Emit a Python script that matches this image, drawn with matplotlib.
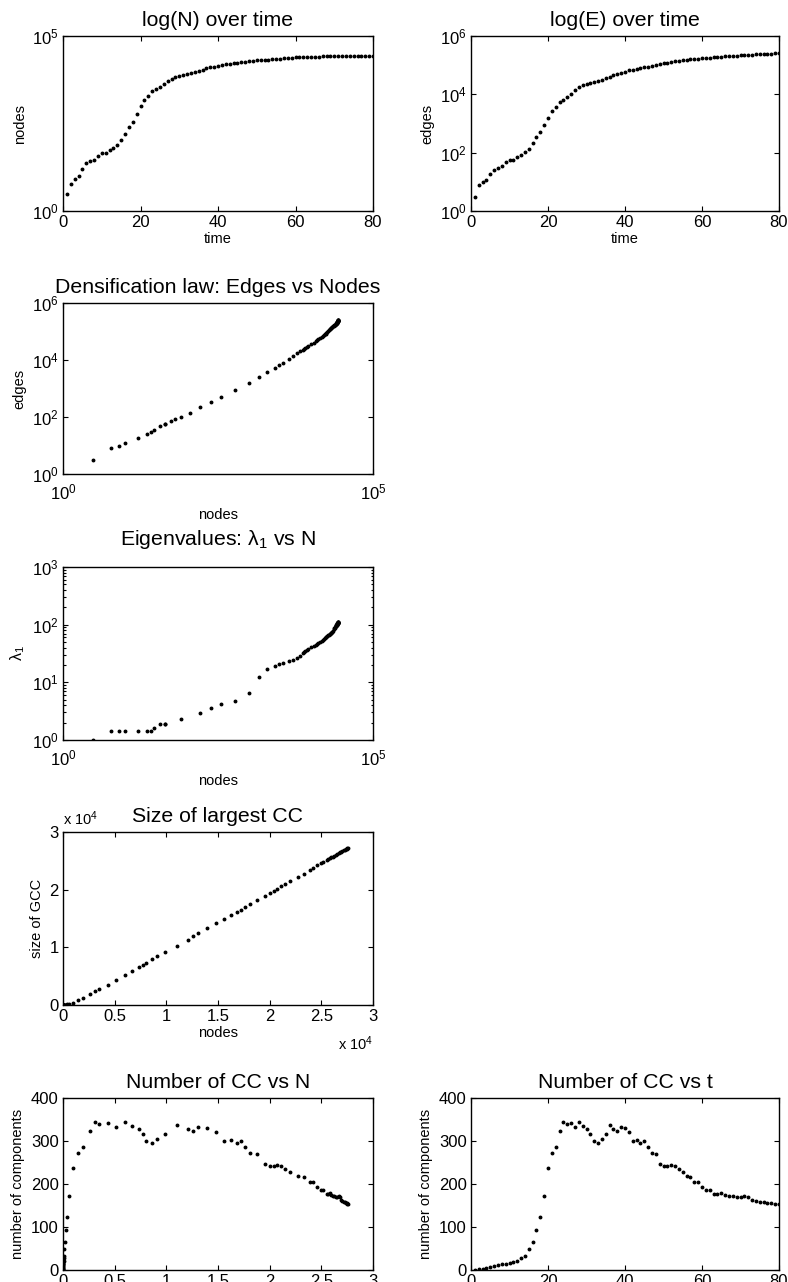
import numpy as np
import matplotlib
matplotlib.use("Agg")
import matplotlib.pyplot as plt
from matplotlib.ticker import FuncFormatter, NullLocator, LogLocator, FixedLocator

plt.rcParams['font.family'] = ['Liberation Sans', 'DejaVu Sans']
plt.rcParams['mathtext.fontset'] = 'custom'
plt.rcParams['mathtext.rm'] = 'Liberation Sans'
plt.rcParams['mathtext.it'] = 'Liberation Sans'
plt.rcParams['mathtext.default'] = 'regular'

NAN = float('nan')

# ---------------- data (one value per time step t = 1..80) ----------------
time = list(range(1, 81))

nodes = [3, 6, 8, 10, 16, 23, 26, 29, 37, 44,
         45, 56, 63, 79, 110, 163, 245, 354, 590, 1000,
         1460, 1980, 2630, 3100, 3520, 4360, 5170, 5980, 6660, 7370,
         7730, 8020, 8570, 9080, 9830, 11000, 12060, 12600, 13100, 13900,
         14800, 15600, 16300, 16800, 17200, 17600, 18100, 18800, 19500, 20000,
         20400, 20700, 21100, 21500, 22000, 22700, 23300, 23900, 24200, 24600,
         25000, 25200, 25500, 25650, 25800, 25950, 26100, 26250, 26400, 26550,
         26680, 26800, 26920, 27040, 27150, 27250, 27350, 27440, 27520, 27600]

edges = [3, 8, 10, 12, 18, 26, 30, 35, 48, 55,
         56, 71, 85, 103, 137, 220, 336, 500, 915, 1590,
         2630, 3800, 5300, 6600, 7900, 10500, 13700, 17400, 20900, 23300,
         24500, 26500, 28700, 31000, 35500, 40400, 45700, 50000, 55400, 60000,
         66000, 71000, 76000, 81000, 85000, 90000, 96000, 103000, 110000, 118000,
         123000, 128000, 134000, 140000, 146000, 152000, 158000, 163000, 168000, 173000,
         178000, 183000, 188000, 193000, 197000, 201000, 205000, 209000, 213000, 217000,
         221000, 225000, 229000, 233000, 237000, 241000, 245000, 249000, 253000, 258000]

# largest eigenvalue (not shown in the reference for a few early steps)
lambda1 = [1.0, 1.414, 1.414, 1.414, 1.414, 1.414, 1.414, 1.6, 1.92, 1.92,
           1.92, NAN, NAN, 2.35, NAN, 2.9, 3.6, 4.2, 4.8, 6.5,
           12.3, 16.9, 19.3, 21.0, 21.4, 23.1, 24.6, 26.4, 28.6, 31.8,
           33.5, 34.5, 36.5, 38.5, 41.0, 43.0, 45.0, 46.5, 48.0, 50.0,
           52.5, 55.0, 57.0, 59.0, 60.0, 61.5, 63.0, 65.0, 67.0, 69.0,
           70.0, 71.0, 72.0, 73.5, 75.0, 79.0, 83.0, 87.0, 89.0, 92.0,
           94.0, 95.0, 97.0, 98.0, 99.0, 100.0, 101.0, 102.0, 103.0, 104.0,
           105.0, 106.0, 107.0, 108.0, 108.5, 109.0, 109.5, 110.0, 110.5, 111.0]

gcc = [3, 4, 5, 6, 7, 9, 10, 12, 14, 18,
       18, 22, 25, 30, 40, 55, 80, 120, 210, 420,
       800, 1200, 1850, 2400, 2800, 3550, 4400, 5150, 5850, 6600,
       7000, 7350, 7900, 8450, 9150, 10300, 11300, 11900, 12400, 13300,
       14150, 14950, 15650, 16150, 16550, 16950, 17500, 18200, 18900, 19450,
       19850, 20150, 20600, 21000, 21500, 22200, 22800, 23450, 23750, 24200,
       24600, 24800, 25100, 25300, 25450, 25600, 25750, 25900, 26050, 26200,
       26330, 26450, 26570, 26690, 26800, 26900, 27000, 27100, 27200, 27300]

ncc = [1, 2, 3, 4, 6, 10, 12, 13, 15, 17,
       19, 22, 27, 33, 48, 66, 92, 124, 172, 238,
       272, 287, 323, 345, 340, 342, 332, 345, 334, 327,
       316, 301, 296, 305, 317, 337, 328, 323, 332, 330,
       322, 299, 302, 296, 299, 285, 272, 269, 246, 241,
       241, 244, 242, 236, 228, 219, 217, 204, 204, 194,
       186, 186, 177, 177, 178, 175, 173, 171, 169, 169,
       172, 169, 163, 161, 158, 157, 155, 155, 153, 153]

# ---------------- figure ----------------
W, H = 788, 1282
fig = plt.figure(figsize=(W / 100, H / 100), dpi=100)


def make_ax(l, t, r, b):
    return fig.add_axes([l / W, 1 - b / H, (r - l) / W, (b - t) / H])


TICK_FS = 12
LAB_FS = 10.5
TITLE_FS = 15.3
MS = 3.6


def style(ax, xpad=3):
    ax.tick_params(which='both', direction='in', top=True, right=True,
                   labelsize=TICK_FS, width=0.8, colors='black')
    ax.tick_params(which='major', length=3.5, pad=3)
    ax.tick_params(axis='x', which='major', pad=xpad)
    ax.tick_params(which='minor', length=1.8)
    for s in ax.spines.values():
        s.set_linewidth(1.0)


def logfmt(v, pos):
    e = int(round(np.log10(v)))
    return r'$10^{%d}$' % e


def linfmt_scaled(v, pos):
    return '%g' % (v / 1e4)


L1, R1 = 63, 373
L2, R2 = 471, 779
TPAD = 7

# Panel 1: log(N) over time
ax = make_ax(L1, 36, R1, 211)
ax.semilogy(time, nodes, 'k.', ms=MS)
ax.set_xlim(0, 80)
ax.set_ylim(1, 1e5)
ax.xaxis.set_major_locator(FixedLocator([0, 20, 40, 60, 80]))
ax.yaxis.set_major_locator(FixedLocator([1, 1e5]))
ax.yaxis.set_minor_locator(NullLocator())
ax.yaxis.set_major_formatter(FuncFormatter(logfmt))
ax.set_title('log(N) over time', fontsize=TITLE_FS, pad=TPAD)
ax.set_xlabel('time', fontsize=LAB_FS, labelpad=1)
ax.set_ylabel('nodes', fontsize=LAB_FS)
style(ax)

# Panel 2: log(E) over time
ax = make_ax(L2, 36, R2, 211)
ax.semilogy(time, edges, 'k.', ms=MS)
ax.set_xlim(0, 80)
ax.set_ylim(1, 1e6)
ax.xaxis.set_major_locator(FixedLocator([0, 20, 40, 60, 80]))
ax.yaxis.set_major_locator(FixedLocator([1, 1e2, 1e4, 1e6]))
ax.yaxis.set_minor_locator(NullLocator())
ax.yaxis.set_major_formatter(FuncFormatter(logfmt))
ax.set_title('log(E) over time', fontsize=TITLE_FS, pad=TPAD)
ax.set_xlabel('time', fontsize=LAB_FS, labelpad=1)
ax.set_ylabel('edges', fontsize=LAB_FS)
style(ax)

# Panel 3: densification
ax = make_ax(L1, 303, R1, 474)
ax.loglog(nodes, edges, 'k.', ms=MS)
ax.set_xlim(1, 1e5)
ax.set_ylim(1, 1e6)
ax.xaxis.set_major_locator(FixedLocator([1, 1e5]))
ax.xaxis.set_minor_locator(NullLocator())
ax.yaxis.set_major_locator(FixedLocator([1, 1e2, 1e4, 1e6]))
ax.yaxis.set_minor_locator(NullLocator())
ax.xaxis.set_major_formatter(FuncFormatter(logfmt))
ax.yaxis.set_major_formatter(FuncFormatter(logfmt))
ax.set_title('Densification law: Edges vs Nodes', fontsize=TITLE_FS, pad=TPAD)
ax.set_xlabel('nodes', fontsize=LAB_FS, labelpad=4)
ax.set_ylabel('edges', fontsize=LAB_FS)
style(ax, xpad=6)

# Panel 4: eigenvalues
ax = make_ax(L1, 567, R1, 740)
ax.loglog(nodes, lambda1, 'k.', ms=MS)
ax.set_xlim(1, 1e5)
ax.set_ylim(1, 1e3)
ax.xaxis.set_major_locator(FixedLocator([1, 1e5]))
ax.xaxis.set_minor_locator(NullLocator())
ax.yaxis.set_major_locator(FixedLocator([1, 10, 100, 1000]))
ax.yaxis.set_minor_locator(LogLocator(base=10, subs=np.arange(2, 10)))
ax.xaxis.set_major_formatter(FuncFormatter(logfmt))
ax.yaxis.set_major_formatter(FuncFormatter(logfmt))
ax.set_title(r'Eigenvalues: $\lambda_1$ vs N', fontsize=TITLE_FS, pad=16)
ax.set_xlabel('nodes', fontsize=LAB_FS, labelpad=4)
ax.set_ylabel(r'$\lambda_1$', fontsize=LAB_FS + 1)
style(ax, xpad=6)

# Panel 5: size of largest CC
ax = make_ax(L1, 832, R1, 1005)
ax.plot(nodes, gcc, 'k.', ms=MS)
ax.set_xlim(0, 3e4)
ax.set_ylim(0, 3e4)
ax.xaxis.set_major_locator(FixedLocator([0, 5e3, 1e4, 1.5e4, 2e4, 2.5e4, 3e4]))
ax.yaxis.set_major_locator(FixedLocator([0, 1e4, 2e4, 3e4]))
ax.xaxis.set_major_formatter(FuncFormatter(linfmt_scaled))
ax.yaxis.set_major_formatter(FuncFormatter(linfmt_scaled))
ax.set_title('Size of largest CC', fontsize=TITLE_FS, pad=TPAD)
ax.set_xlabel('nodes', fontsize=LAB_FS, labelpad=1)
ax.set_ylabel('size of GCC', fontsize=LAB_FS)
ax.text(0.0, 1.025, r'x $10^{4}$', transform=ax.transAxes, fontsize=TICK_FS - 1.5,
        ha='left', va='bottom')
ax.text(1.0, -0.17, r'x $10^{4}$', transform=ax.transAxes, fontsize=TICK_FS - 1.5,
        ha='right', va='top')
style(ax)

# Panel 6: number of CC vs N
ax = make_ax(L1, 1098, R1, 1270)
ax.plot(nodes, ncc, 'k.', ms=MS)
ax.set_xlim(0, 3e4)
ax.set_ylim(0, 400)
ax.xaxis.set_major_locator(FixedLocator([0, 5e3, 1e4, 1.5e4, 2e4, 2.5e4, 3e4]))
ax.yaxis.set_major_locator(FixedLocator([0, 100, 200, 300, 400]))
ax.xaxis.set_major_formatter(FuncFormatter(linfmt_scaled))
ax.set_title('Number of CC vs N', fontsize=TITLE_FS, pad=TPAD)
ax.set_ylabel('number of components', fontsize=LAB_FS)
style(ax)

# Panel 7: number of CC vs t
ax = make_ax(L2, 1098, R2, 1270)
ax.plot(time, ncc, 'k.', ms=MS)
ax.set_xlim(0, 80)
ax.set_ylim(0, 400)
ax.xaxis.set_major_locator(FixedLocator([0, 20, 40, 60, 80]))
ax.yaxis.set_major_locator(FixedLocator([0, 100, 200, 300, 400]))
ax.set_title('Number of CC vs t', fontsize=TITLE_FS, pad=TPAD)
ax.set_ylabel('number of components', fontsize=LAB_FS)
style(ax)

fig.savefig('out.png', dpi=100)
